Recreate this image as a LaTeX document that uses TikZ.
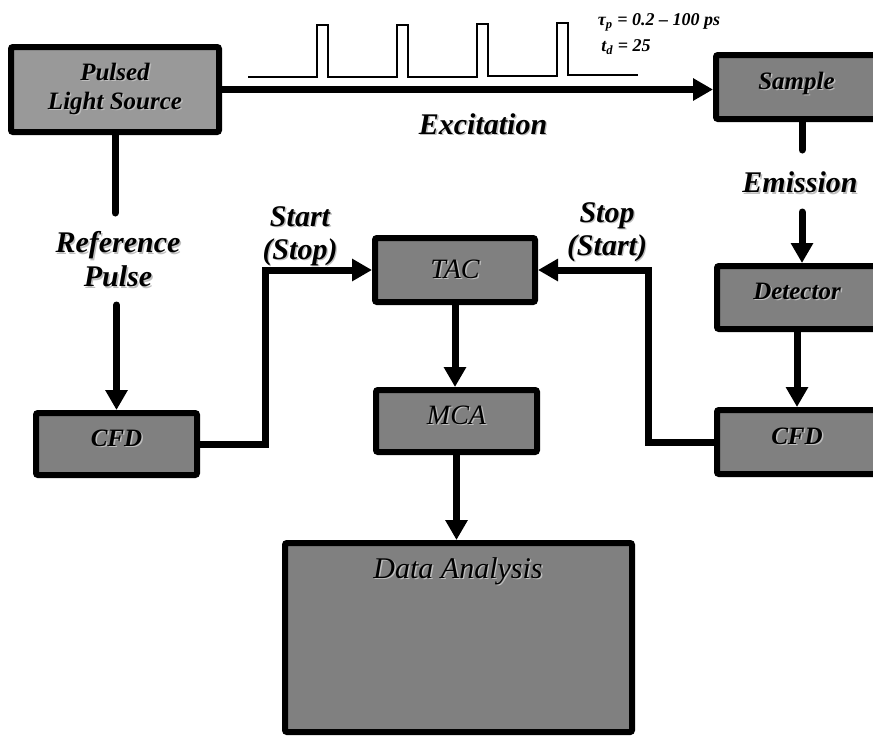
\documentclass[tikz,border=0pt]{standalone}
\usepackage{fontspec}
\setmainfont{Liberation Serif}
\usetikzlibrary{arrows.meta}
\definecolor{boxgray}{RGB}{128,128,128}
\definecolor{plsgray}{RGB}{153,153,153}
\definecolor{shadowc}{RGB}{190,190,190}
\newcommand\shtxt[1]{\makebox[0pt][l]{\hspace{1.1pt}\raisebox{-1.1pt}{\textcolor{shadowc}{#1}}}#1}
\tikzset{
  blk/.style={draw=black, line width=4.5pt, fill=boxgray, rounded corners=1.5pt, inner sep=0pt, align=center},
  bfont/.style={font=\fontsize{18.75}{21.75}\selectfont\bfseries\itshape},
  rfont/.style={font=\fontsize{21}{24}\selectfont\itshape},
  lbl/.style={align=center, inner sep=0pt, font=\fontsize{22.5}{25}\selectfont\bfseries\itshape},
  conn/.style={line width=5.25pt, line cap=round},
  arr/.style={conn, -{Triangle[length=15pt,width=16pt]}},
  pulse/.style={line width=1.5pt}
}
\begin{document}
\begin{tikzpicture}[x=0.75pt,y=-0.75pt]
\useasboundingbox (0,0) rectangle (873,736);
% boxes
\node[blk, bfont, fill=plsgray, minimum width=156pt, minimum height=63.75pt] (pls) at (115,89.5) {\shtxt{Pulsed}\\\shtxt{Light Source}};
\node[blk, bfont, minimum width=120.75pt, minimum height=48pt, text depth=10pt, text height=13pt] (sample) at (796.5,87) {\shtxt{Sample}};
\node[blk, bfont, minimum width=120pt, minimum height=47.25pt, text depth=10pt, text height=13pt] (det) at (797,297.5) {\shtxt{Detector}};
\node[blk, bfont, minimum width=120pt, minimum height=48pt, text depth=10pt, text height=13pt] (cfdR) at (797,442) {\shtxt{CFD}};
\node[blk, bfont, minimum width=120.75pt, minimum height=46.5pt, text depth=10pt, text height=13pt] (cfdL) at (116.5,444) {\shtxt{CFD}};
\node[blk, rfont, minimum width=120pt, minimum height=48pt] (tac) at (455,270) {\shtxt{TAC}};
\node[blk, rfont, minimum width=120.75pt, minimum height=46.5pt, text depth=9pt, text height=14pt] (mca) at (456.5,421) {\shtxt{MCA}};
\node[blk, minimum width=260.25pt, minimum height=141.75pt] (da) at (458.5,637.5) {};
\node[inner sep=0pt, font=\fontsize{22.5}{25}\selectfont\itshape] (datxt) at (458,572) {\shtxt{Data Analysis}};
% pulse train
\draw[pulse] (248,77) -- (317,77) -- (317,25) -- (328,25) -- (328,77) -- (397,77) -- (397,25) -- (408,25) -- (408,77)
  -- (477,77) -- (477,24) -- (488,24) -- (488,76) -- (557,76) -- (557,23) -- (568,23) -- (568,75) -- (638,75);
\node[inner sep=0pt, font=\fontsize{13.5}{15}\selectfont\bfseries\itshape] (tau) at (659,22) {τ\textsubscript{p} = 0.2 – 100 ps};
\node[inner sep=0pt, font=\fontsize{13.5}{15}\selectfont\bfseries\itshape] (td) at (626,47) {t\textsubscript{d} = 25};
% labels
\node[lbl] (exc) at (483,125) {\shtxt{Excitation}};
\node[lbl] (emi) at (800,183) {\shtxt{Emission}};
\node[lbl, font=\fontsize{22.5}{25.5}\selectfont\bfseries\itshape] (ref) at (118,260) {\shtxt{Reference}\\\shtxt{Pulse}};
\node[lbl, font=\fontsize{22.5}{24.75}\selectfont\bfseries\itshape] (startl) at (300,237) {\shtxt{Start}\\\shtxt{(Stop)}};
\node[lbl, font=\fontsize{22.5}{24.75}\selectfont\bfseries\itshape] (stopl) at (607,233) {\shtxt{Stop}\\\shtxt{(Start)}};
% coordinates
\coordinate (refEnd) at (115,213);
\coordinate (refStart) at (116.5,305);
\coordinate (jL) at (265,270);
\coordinate (jR) at (648,270);
\coordinate (emA) at (802,150);
\coordinate (emB) at (802,212);
% connectors
\draw[arr] (pls.east) -- (pls.east -| sample.west);
\draw[conn] (pls.south) -- (refEnd);
\draw[arr] (refStart) -- (cfdL.north);
\draw[arr] (cfdL.east) -| (jL) -- (tac.west);
\draw[arr] (cfdR.west) -| (jR) -- (tac.east);
\draw[arr] (tac.south) -- (tac.south |- mca.north);
\draw[arr] (mca.south) -- (mca.south |- da.north);
\draw[conn] (sample.south -| emA) -- (emA);
\draw[arr] (emB) -- (emB |- det.north);
\draw[arr] (det.south) -- (cfdR.north);
\end{tikzpicture}
\end{document}
